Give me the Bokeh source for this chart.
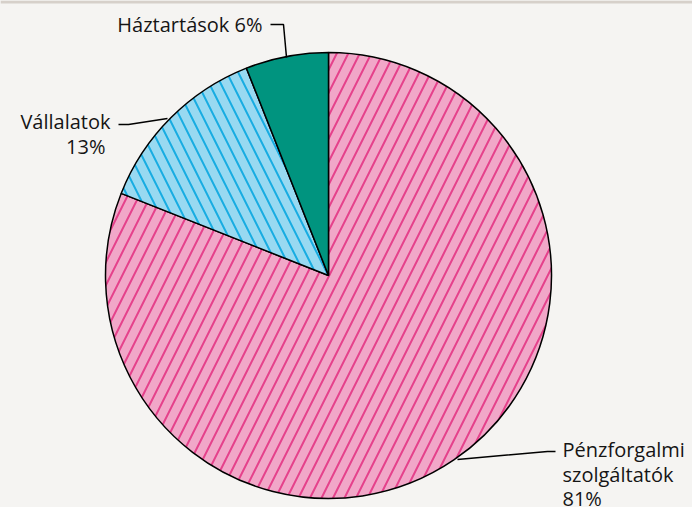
from bokeh.plotting import figure
from bokeh.models import Range1d, ColumnDataSource
from bokeh.core.properties import value
from bokeh.embed import file_html
from bokeh.resources import INLINE
import math

categories = ["Pénzforgalmi szolgáltatók", "Vállalatok", "Háztartások"]
shares = [81, 13, 6]
fill_colors = ["#f1a7c8", "#98d9f1", "#00947f"]
hatch_colors = ["#e5418b", "#17ace2", "#00947f"]
hatch_patterns = ["/", "\\", " "]

W, H = 692, 507
p = figure(width=W, height=H, output_backend="svg", toolbar_location=None,
           x_range=Range1d(0, W), y_range=Range1d(0, H), min_border=0)
p.axis.visible = False
p.grid.visible = False
p.outline_line_color = None
p.background_fill_color = "#f5f4f2"
p.border_fill_color = "#f5f4f2"

# top band
p.quad(left=[0], right=[W], bottom=[H - 3], top=[H], fill_color="#d6d0ca", line_color=None)

cx, cy, r = 328, H - 275, 223
total = sum(shares)
order = [2, 1, 0]
start = 90.0
angles = {}
for i in order:
    sweep = shares[i] / total * 360
    angles[i] = (start, start + sweep)
    start += sweep
src = ColumnDataSource(dict(
    x=[cx] * 3, y=[cy] * 3,
    start=[math.radians(angles[i][0]) for i in range(3)],
    end=[math.radians(angles[i][1]) for i in range(3)],
    fill=fill_colors, hcolor=hatch_colors, hpat=hatch_patterns,
))
p.wedge(x="x", y="y", radius=r, start_angle="start", end_angle="end",
        direction="anticlock", fill_color="fill", line_color="black", line_width=1.5,
        hatch_pattern="hpat", hatch_color="hcolor", hatch_scale=23, hatch_weight=2,
        source=src)

def Y(v):
    return H - v

# leader lines
p.line([270, 283, 286], [Y(24), Y(24), Y(57)], line_color="black", line_width=1.5)
p.line([118, 128, 167], [Y(124), Y(124), Y(118)], line_color="black", line_width=1.5)
p.line([555, 547, 457], [Y(451), Y(451), Y(459)], line_color="black", line_width=1.5)

font = value("Open Sans")
fs = "20px"
tc = "#151515"
p.text(x=[262], y=[Y(24)], text=["Háztartások 6%"], text_font=font, text_font_size=fs,
       text_align="right", text_baseline="middle", text_color=tc)
p.text(x=[110, 105], y=[Y(121), Y(146)], text=["Vállalatok", "13%"], text_font=font,
       text_font_size=fs, text_align="right", text_baseline="middle", text_color=tc)
p.text(x=[562, 562, 562], y=[Y(449), Y(474), Y(498)],
       text=["Pénzforgalmi", "szolgáltatók", "81%"], text_font=font,
       text_font_size=fs, text_align="left", text_baseline="middle", text_color=tc)

html = file_html(p, INLINE)
html = html.replace("<head>", "<head><style>html,body{margin:0;padding:0;background:#f5f4f2;overflow:hidden}</style>", 1)
open("out.html", "w").write(html)
